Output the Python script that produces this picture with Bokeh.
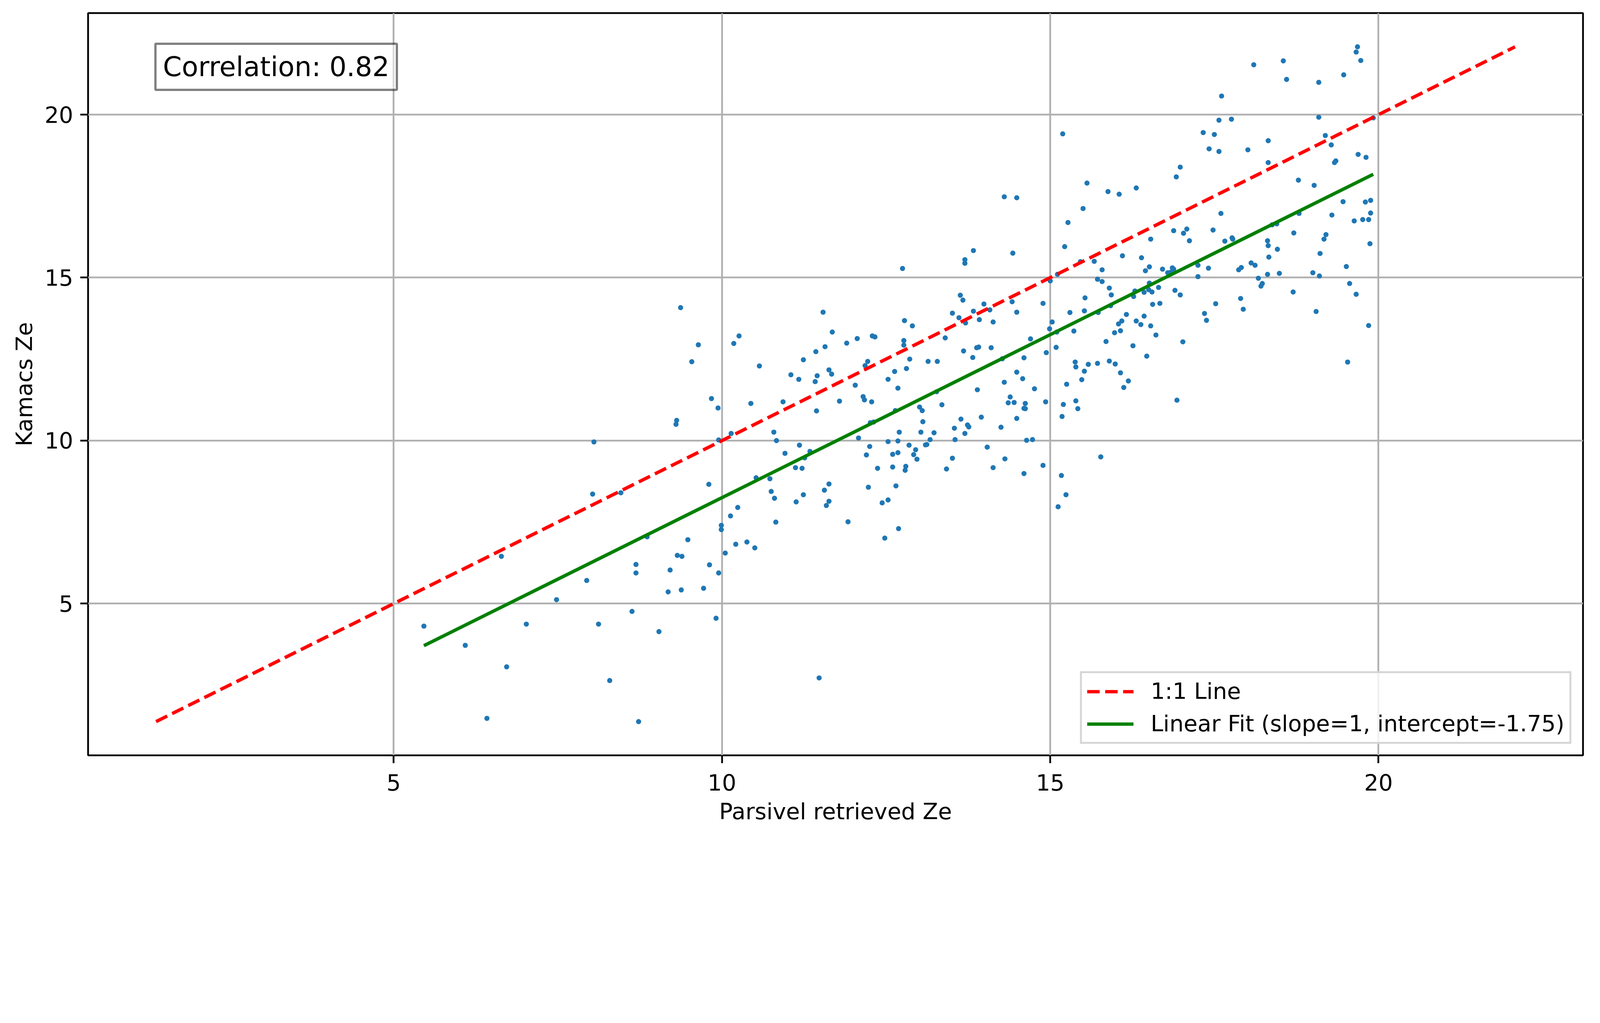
from bokeh.plotting import figure
from bokeh.models import Range1d, FixedTicker, Label
from bokeh.embed import file_html
from bokeh.resources import INLINE

# ---- data ----
parsivel_ze = [
    9.31, 9.30, 8.05, 9.95, 10.14, 8.03, 8.46, 9.80, 10.13, 10.24, 9.99, 9.99, 8.86, 9.48, 10.21, 10.05,
    6.64, 9.32, 9.39, 8.69, 8.69, 9.21, 9.81, 9.95, 7.94, 9.18, 9.38, 9.72, 7.48, 5.46, 7.02, 8.12,
    8.63, 9.04, 9.91, 6.09, 6.72, 8.29, 6.42, 8.73,
    9.37, 9.64, 10.18, 10.26, 9.54, 10.57, 9.84, 9.94, 10.44,
    11.48, 14.30, 14.49, 13.83,
    13.70, 13.70, 12.75, 14.43, 15.00,
    13.63, 13.67, 14.89, 14.42, 13.99, 13.83, 14.08, 14.49, 13.51, 13.61, 13.71, 13.92, 14.13, 14.99,
    11.54, 11.68, 12.06, 11.90, 12.29, 12.33, 12.77, 12.77, 11.57, 11.43, 11.24,
    13.40, 12.90, 12.78, 13.68, 13.82, 13.88, 13.91, 14.10, 14.70, 14.94, 14.60,
    12.86, 13.14, 13.28, 12.22, 12.18, 12.81, 12.63, 11.63, 11.67, 11.45, 11.05, 11.17, 11.42, 12.53,
    12.03, 12.68,
    14.27, 14.49, 14.58, 14.30, 13.89, 14.76, 13.27,
    10.93, 11.79, 12.15, 12.17, 12.28, 11.44, 13.35, 13.01, 13.05, 12.64,
    14.39, 14.36, 14.45, 14.62, 14.60, 14.62, 14.93,
    14.49, 13.95, 13.64, 13.06, 12.26, 12.31, 13.54, 13.74, 13.76, 14.25, 13.70, 13.55, 13.23, 13.03,
    12.70, 12.08, 10.79,
    10.83, 13.17, 12.53, 12.68, 14.64, 14.73,
    11.18, 12.25, 12.85, 13.12, 13.10, 14.04,
    10.96, 11.34, 11.26, 12.20, 12.60, 12.68, 12.95, 12.92, 12.97, 13.51, 14.31,
    10.52, 11.12, 11.22, 12.37, 12.60, 12.80, 12.79, 13.42, 14.13, 14.89, 14.60,
    10.73, 10.75, 10.80, 11.63, 11.56, 11.24, 12.23, 12.65,
    11.13, 11.63, 11.59, 12.44, 12.53,
    10.82, 11.92, 12.69, 12.48,
    10.38, 10.50,
    19.68, 19.66, 19.73, 18.10, 18.55, 18.60, 19.47, 19.09, 17.61, 17.57, 17.76, 19.09, 19.92, 15.19,
    17.33, 17.50, 18.32, 19.19, 19.28, 17.42, 17.57, 18.01, 19.69, 19.81, 18.32, 19.33, 19.35, 16.98,
    16.92, 15.56, 15.88, 16.05, 16.31, 18.78, 19.02, 15.50, 15.27, 15.22, 19.46, 19.80, 19.88, 19.88,
    19.63, 19.76, 19.85, 19.29, 18.79, 17.60, 17.48, 16.88, 17.03, 17.08, 17.12, 16.53, 17.66, 17.77,
    17.78, 18.38, 18.45, 18.71, 19.20, 19.17, 18.31, 18.32, 18.46, 19.11, 19.87, 18.33, 15.46, 15.67,
    16.10, 16.39, 15.79, 15.72, 15.79, 16.51, 16.45, 16.71, 16.79, 16.83, 16.86, 16.88, 17.25, 17.41,
    17.25, 17.87, 17.91, 18.06, 18.12, 18.31, 18.49, 18.17, 18.23, 18.21, 19.00, 19.10, 19.51, 19.56,
    18.70, 19.66, 19.05, 19.85, 19.53, 15.11,
    15.90, 15.93, 15.53, 15.52, 15.30, 15.73, 15.92, 16.29, 16.27, 16.43, 16.50, 16.51, 16.55, 16.65,
    16.56, 16.67, 16.90, 16.98, 17.52, 17.90, 17.94, 17.35, 17.38, 15.03, 15.10, 15.36, 16.16, 16.04,
    16.09, 16.31, 16.43, 16.38, 16.53, 16.07, 15.98, 15.85, 16.61, 17.02, 16.26, 16.47, 15.09, 15.38,
    15.39, 15.52, 15.58, 15.48, 15.72, 15.90, 15.99, 16.07, 16.19,
    16.12, 15.25, 15.20, 15.39, 15.42, 15.18, 16.93, 15.77, 15.17, 15.24, 15.12,
]
kamacs_ze = [
    10.62, 10.50, 9.96, 10.02, 10.22, 8.36, 8.40, 8.66, 7.69, 7.95, 7.40, 7.27, 7.05, 6.96, 6.82, 6.55,
    6.45, 6.48, 6.45, 6.20, 5.94, 6.03, 6.19, 5.94, 5.71, 5.36, 5.42, 5.47, 5.12, 4.31, 4.37, 4.37,
    4.76, 4.14, 4.55, 3.72, 3.06, 2.64, 1.48, 1.38,
    14.08, 12.94, 12.98, 13.21, 12.42, 12.29, 11.29, 11.00, 11.14,
    2.72, 17.48, 17.45, 15.83,
    15.55, 15.44, 15.28, 15.75, 14.90,
    14.46, 14.31, 14.21, 14.26, 14.19, 13.97, 14.01, 13.94, 13.91, 13.77, 13.61, 13.71, 13.64, 13.43,
    13.94, 13.33, 13.13, 12.99, 13.21, 13.18, 13.07, 12.93, 12.88, 12.73, 12.48,
    13.15, 13.52, 13.68, 12.75, 12.55, 12.85, 12.87, 12.85, 13.12, 12.70, 12.54,
    12.50, 12.43, 12.43, 12.43, 12.30, 12.21, 12.12, 12.17, 12.04, 11.99, 12.02, 11.88, 11.81, 11.88,
    11.70, 11.61,
    12.51, 12.10, 11.90, 11.79, 11.56, 11.59, 11.50,
    11.19, 11.21, 11.35, 11.25, 11.19, 10.91, 11.10, 11.03, 10.92, 10.92,
    11.34, 11.16, 11.17, 11.14, 10.99, 10.98, 11.19,
    10.68, 10.72, 10.66, 10.58, 10.55, 10.57, 10.38, 10.48, 10.42, 10.41, 10.22, 10.03, 10.24, 10.26,
    10.26, 10.08, 10.26,
    10.00, 10.03, 9.97, 9.99, 10.01, 10.03,
    9.86, 9.82, 9.86, 9.88, 9.87, 9.80,
    9.61, 9.67, 9.47, 9.56, 9.58, 9.63, 9.72, 9.57, 9.43, 9.46, 9.44,
    8.86, 9.17, 9.15, 9.15, 9.19, 9.21, 9.09, 9.13, 9.17, 9.24, 8.99,
    8.83, 8.44, 8.23, 8.67, 8.48, 8.34, 8.57, 8.61,
    8.12, 8.14, 8.01, 8.09, 8.18,
    7.50, 7.51, 7.30, 7.01,
    6.89, 6.71,
    22.08, 21.92, 21.66, 21.53, 21.65, 21.08, 21.22, 20.99, 20.57, 19.83, 19.86, 19.92, 19.90, 19.41,
    19.45, 19.39, 19.20, 19.36, 19.07, 18.95, 18.87, 18.92, 18.78, 18.69, 18.53, 18.53, 18.58, 18.39,
    18.09, 17.90, 17.64, 17.56, 17.75, 17.99, 17.83, 17.12, 16.69, 15.95, 17.33, 17.32, 17.37, 16.98,
    16.74, 16.78, 16.78, 16.92, 16.97, 16.97, 16.46, 16.44, 16.36, 16.49, 16.13, 16.18, 16.12, 16.22,
    16.18, 16.62, 16.65, 16.37, 16.32, 16.18, 16.13, 15.98, 15.87, 15.74, 16.04, 15.63, 15.49, 15.50,
    15.67, 15.61, 15.24, 14.95, 14.88, 15.33, 15.21, 15.26, 15.15, 15.16, 15.30, 15.26, 15.38, 15.29,
    15.03, 15.24, 15.31, 15.45, 15.38, 15.10, 15.13, 14.98, 14.82, 14.74, 15.15, 15.05, 15.34, 14.82,
    14.56, 14.49, 13.96, 13.53, 12.41, 15.10,
    14.68, 14.47, 14.38, 13.98, 13.93, 13.93, 14.14, 14.59, 14.42, 14.55, 14.63, 14.83, 14.56, 14.70,
    14.18, 14.21, 14.61, 14.47, 14.20, 14.36, 14.03, 13.90, 13.69, 13.64, 13.33, 13.36, 13.87, 13.58,
    13.67, 13.67, 13.82, 13.56, 13.52, 13.37, 13.31, 13.04, 13.24, 13.03, 12.91, 12.59, 12.86, 12.41,
    12.26, 12.13, 12.34, 11.87, 12.37, 12.44, 12.35, 12.08, 11.83,
    11.63, 11.73, 11.11, 11.22, 10.98, 10.74, 11.24, 9.50, 8.93, 8.34, 7.97,
]
fit_slope = 1.0
fit_intercept = -1.75
correlation = 0.82
axis_ticks = [5, 10, 15, 20]
x_label = "Parsivel retrieved Ze"
y_label = "Kamacs Ze"
one_to_one_label = "1:1 Line"
fit_label = f"Linear Fit (slope={fit_slope:g}, intercept={fit_intercept:g})"

# ---- derived values ----
lo = min(min(parsivel_ze), min(kamacs_ze))
hi = max(max(parsivel_ze), max(kamacs_ze))
pad = 0.05 * (hi - lo)
r_start, r_end = lo - pad, hi + pad
fit_x = [min(parsivel_ze), max(parsivel_ze)]
fit_y = [fit_slope * v + fit_intercept for v in fit_x]

FONT = "DejaVu Sans"
S = 4100.0 / 4981.0      # page scale


def px(v):
    return v * S


def fs(v):
    return f"{v * S:.1f}px"


p = figure(
    frame_width=3827, frame_height=1901,
    min_border_left=225, min_border_right=32, min_border_top=33, min_border_bottom=204,
    x_range=Range1d(r_start, r_end), y_range=Range1d(r_start, r_end),
    output_backend="svg", toolbar_location=None,
)
p.background_fill_color = "white"
p.border_fill_color = "white"
p.outline_line_color = "black"
p.outline_line_width = px(5.5)

p.scatter(parsivel_ze, kamacs_ze, size=px(16), color="#1f77b4", line_width=0)
p.line([lo, hi], [lo, hi], line_color="red", line_width=px(10.5),
       line_dash=f"{px(39):.0f} {px(17):.0f}", legend_label=one_to_one_label)
p.line(fit_x, fit_y, line_color="green", line_width=px(10.5), legend_label=fit_label)

for ax in (p.xaxis[0], p.yaxis[0]):
    ax.ticker = FixedTicker(ticks=axis_ticks)
    ax.minor_tick_line_color = None
    ax.axis_line_color = None
    ax.major_tick_out = round(px(24))
    ax.major_tick_in = 0
    ax.major_tick_line_width = px(5.5)
    ax.major_tick_line_color = "black"
    ax.major_label_text_font = FONT
    ax.major_label_text_font_size = fs(70)
    ax.major_label_text_color = "black"
    ax.axis_label_text_font = FONT
    ax.axis_label_text_font_size = fs(70)
    ax.axis_label_text_font_style = "normal"
    ax.axis_label_text_color = "black"

p.xaxis.axis_label = x_label
p.yaxis.axis_label = y_label
p.xaxis.major_label_standoff = round(px(34))
p.xaxis.axis_label_standoff = round(px(21))
p.yaxis.major_label_standoff = round(px(22))
p.yaxis.axis_label_standoff = round(px(18))

p.grid.grid_line_color = "#b0b0b0"
p.grid.grid_line_width = px(5.5)
p.xgrid.ticker = FixedTicker(ticks=axis_ticks)
p.ygrid.ticker = FixedTicker(ticks=axis_ticks)

lab = Label(
    x=r_start + 0.05 * (r_end - r_start), y=r_start + 0.95 * (r_end - r_start),
    x_offset=px(-23), y_offset=px(20),
    text=f"Correlation: {correlation:.2f}",
    text_font=FONT, text_font_size=fs(84), text_color="black",
    text_align="left", text_baseline="top",
    background_fill_color="white", background_fill_alpha=0.5,
    border_line_color="black", border_line_alpha=0.5, border_line_width=px(7),
    padding=round(px(23)),
)
p.add_layout(lab)

leg = p.legend[0]
leg.location = "bottom_right"
leg.margin = round(px(35))
leg.padding = round(px(16))
leg.spacing = round(px(20))
leg.glyph_width = round(px(145))
leg.glyph_height = round(px(80))
leg.label_height = round(px(80))
leg.label_standoff = round(px(54))
leg.label_text_font = FONT
leg.label_text_font_size = fs(70)
leg.label_text_color = "black"
leg.border_line_color = "#cccccc"
leg.border_line_width = px(7)
leg.border_line_alpha = 0.8
leg.background_fill_color = "white"
leg.background_fill_alpha = 0.8

open("out.html", "w").write(file_html(p, INLINE))
